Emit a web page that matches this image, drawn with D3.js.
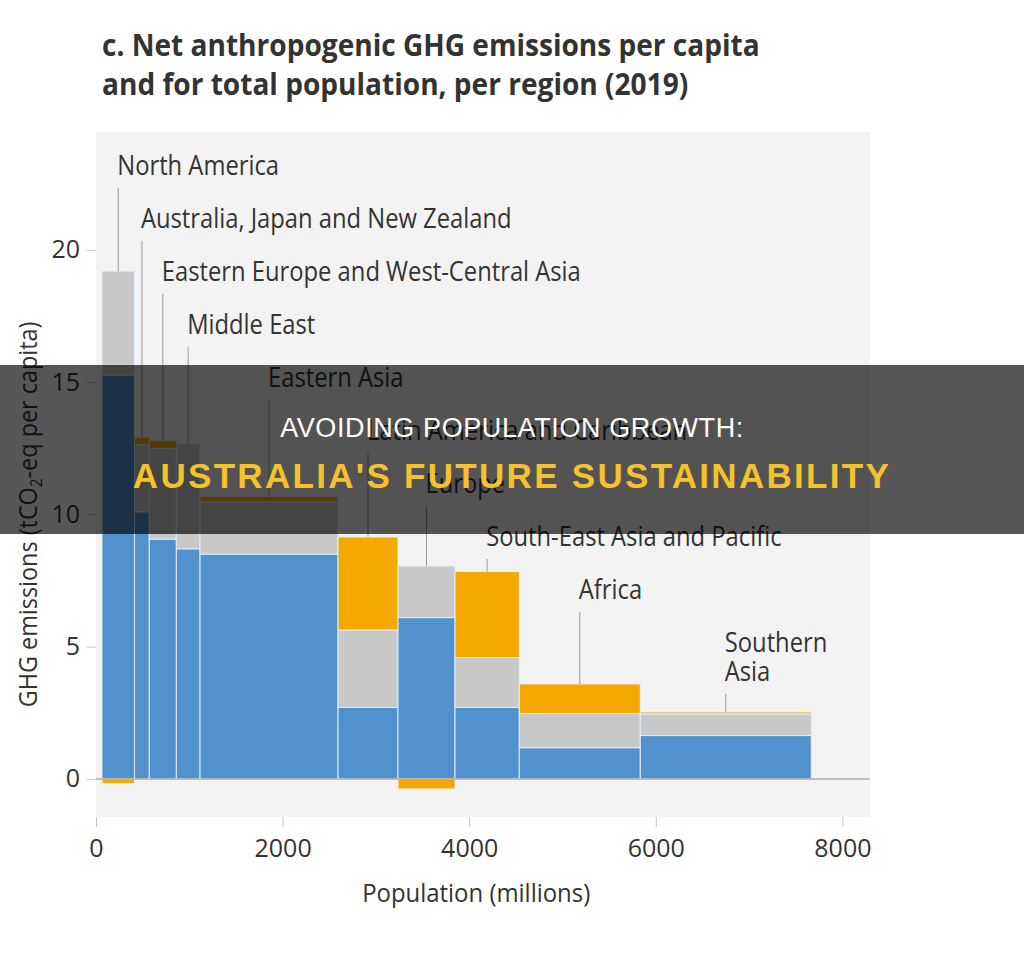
<!DOCTYPE html>
<html>
<head>
<meta charset="utf-8">
<script src="https://cdn.jsdelivr.net/npm/d3@7"></script>
<style>
  body { margin: 0; background: #fff; }
  svg { display: block; }
</style>
</head>
<body>
<script>
// regions, left to right, with population (millions) and emissions per capita (tCO2-eq)
const regions = ['North America', 'Australia, Japan and New Zealand', 'Eastern Europe and West-Central Asia',
    'Middle East', 'Eastern Asia', 'Latin America and Caribbean', 'Europe',
    'South-East Asia and Pacific', 'Africa', 'Southern Asia'];
const population = [349, 158, 290, 254, 1479, 643, 611, 689, 1297, 1832];
const co2Ffi = [15.27, 10.1, 9.07, 8.7, 8.5, 2.7, 6.1, 2.7, 1.18, 1.64];
const otherGhg = [3.93, 2.53, 3.43, 3.98, 1.98, 2.93, 1.95, 1.89, 1.29, 0.82];
const lulucf = [-0.17, 0.29, 0.3, 0, 0.19, 3.52, -0.38, 3.25, 1.12, 0.07];
const popStart = 64;

const xTicks = [0, 2000, 4000, 6000, 8000];
const yTicks = [0, 5, 10, 15, 20];
const titleLines = ['c. Net anthropogenic GHG emissions per capita', 'and for total population, per region (2019)'];
const bannerLines = ['AVOIDING POPULATION GROWTH:', "AUSTRALIA'S FUTURE SUSTAINABILITY"];

const W = 1024, H = 960;
const plot = { left: 96, right: 870, top: 132, bottom: 817 };
const font = '"Open Sans", sans-serif';
const textColor = '#333';

const svg = d3.select('body')
    .append('svg')
    .attr('width', W)
    .attr('height', H);

const x = d3.scaleLinear().domain([0, 8296]).range([plot.left, plot.right]);
const y = d3.scaleLinear().domain([-1.44, 24.46]).range([plot.bottom, plot.top]);

// squeeze text a little so it reads like the narrow original typeface
function condense(sel, k) {
    sel.each(function () {
        const w = this.getComputedTextLength();
        d3.select(this).attr('textLength', w * k).attr('lengthAdjust', 'spacingAndGlyphs');
    });
}

// build the rows: x extent and the stacked segments
let cum = popStart;
const rows = regions.map((name, i) => {
    const x0 = cum;
    cum += population[i];
    const top2 = co2Ffi[i] + otherGhg[i];
    const segs = [
        { y0: 0, y1: co2Ffi[i], color: '#5191cd' },
        { y0: co2Ffi[i], y1: top2, color: '#c8c8c8' }
    ];
    if (lulucf[i] > 0) segs.push({ y0: top2, y1: top2 + lulucf[i], color: '#f5a800' });
    if (lulucf[i] < 0) segs.push({ y0: lulucf[i], y1: 0, color: '#f5a800' });
    return { name, i, x0, x1: cum, segs, top: top2 + Math.max(lulucf[i], 0) };
});

// title
svg.append('g')
    .selectAll('text')
    .data(titleLines)
    .enter()
    .append('text')
    .attr('x', 102)
    .attr('y', (d, i) => 56 + i * 39)
    .attr('font-family', font)
    .attr('font-weight', 700)
    .attr('font-size', 31)
    .attr('fill', textColor)
    .text(d => d)
    .call(condense, 0.905);

// plot background
svg.append('rect')
    .attr('x', plot.left)
    .attr('y', plot.top)
    .attr('width', plot.right - plot.left)
    .attr('height', plot.bottom - plot.top)
    .attr('fill', '#f3f3f3');

// bars
const groups = svg.selectAll('g.region')
    .data(rows)
    .enter()
    .append('g')
    .attr('class', 'region');

groups.selectAll('rect')
    .data(d => d.segs.map(s => Object.assign({ x0: d.x0, x1: d.x1 }, s)))
    .enter()
    .append('rect')
    .attr('x', d => x(d.x0))
    .attr('width', d => x(d.x1) - x(d.x0))
    .attr('y', d => y(d.y1))
    .attr('height', d => y(d.y0) - y(d.y1))
    .attr('fill', d => d.color)
    .attr('stroke', '#e4eef8')
    .attr('stroke-width', 1);

// zero line
svg.append('line')
    .attr('x1', plot.left)
    .attr('x2', plot.right)
    .attr('y1', y(0))
    .attr('y2', y(0))
    .attr('stroke', '#ababab')
    .attr('stroke-width', 1.5);

// labels with leader lines
const labelTop = 175, labelStep = 53, labelK = 0.88;
groups.each(function (d) {
    const g = d3.select(this);
    const cx = x((d.x0 + d.x1) / 2);
    const base = labelTop + d.i * labelStep;
    const t = g.append('text')
        .attr('x', cx - 1)
        .attr('y', base)
        .attr('font-family', font)
        .attr('font-size', 27)
        .attr('fill', textColor)
        .text(d.name);
    const w = t.node().getComputedTextLength() * labelK;
    let last = base;
    // wrap onto two lines when the name runs past the plot
    if (cx + w > plot.right) {
        const words = d.name.split(' ');
        t.text(null);
        words.forEach((word, k) => {
            t.append('tspan').attr('x', cx - 1).attr('dy', k ? 29 : 0).text(word)
                .call(condense, labelK);
        });
        last = base + 29 * (words.length - 1);
    } else {
        t.call(condense, labelK);
    }
    g.append('line')
        .attr('x1', cx)
        .attr('x2', cx)
        .attr('y1', last + 13)
        .attr('y2', y(d.top))
        .attr('stroke', '#9a9a9a')
        .attr('stroke-width', 1);
});

// axes
const xAxis = svg.append('g')
    .attr('transform', `translate(0,${plot.bottom})`)
    .call(d3.axisBottom(x).tickValues(xTicks).tickSize(10).tickPadding(12).tickFormat(d3.format('d')));
const yAxis = svg.append('g')
    .attr('transform', `translate(${plot.left},0)`)
    .call(d3.axisLeft(y).tickValues(yTicks).tickSize(9).tickPadding(7));

[xAxis, yAxis].forEach(a => {
    a.select('.domain').remove();
    a.selectAll('line').attr('stroke', '#c4c4c4');
    a.selectAll('text')
        .attr('font-family', font)
        .attr('font-size', 25)
        .attr('fill', textColor);
});

svg.append('text')
    .attr('x', x(4075))
    .attr('y', 902)
    .attr('text-anchor', 'middle')
    .attr('font-family', font)
    .attr('font-size', 26)
    .attr('fill', textColor)
    .text('Population (millions)')
    .call(condense, 0.92);

const yTitle = svg.append('text')
    .attr('transform', `translate(37,${y(10)}) rotate(-90)`)
    .attr('text-anchor', 'middle')
    .attr('font-family', font)
    .attr('font-size', 26)
    .attr('fill', textColor);
yTitle.append('tspan').text('GHG emissions (tCO');
yTitle.append('tspan').attr('font-size', 17).attr('dy', 5).text('2');
yTitle.append('tspan').attr('dy', -5).text('-eq per capita)');
yTitle.call(condense, 0.9);

// banner overlay
svg.append('rect')
    .attr('x', 0)
    .attr('y', 365)
    .attr('width', W)
    .attr('height', 169)
    .attr('fill', 'rgba(0,0,0,0.66)');

svg.append('text')
    .attr('x', W / 2)
    .attr('y', 437)
    .attr('text-anchor', 'middle')
    .attr('font-family', '"Liberation Sans", Arial, sans-serif')
    .attr('font-size', 27)
    .attr('letter-spacing', 0.6)
    .attr('fill', '#fff')
    .text(bannerLines[0]);

svg.append('text')
    .attr('x', W / 2)
    .attr('y', 488)
    .attr('text-anchor', 'middle')
    .attr('font-family', '"Liberation Sans", Arial, sans-serif')
    .attr('font-weight', 700)
    .attr('font-size', 35)
    .attr('letter-spacing', 2.3)
    .attr('fill', '#f5c22c')
    .text(bannerLines[1]);
</script>
</body>
</html>
